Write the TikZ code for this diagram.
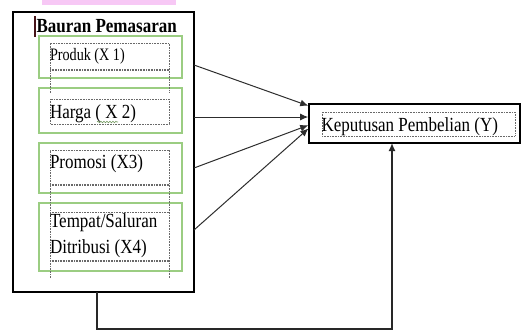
\documentclass[tikz,border=0pt]{standalone}
\usepackage{fontspec}
\setmainfont{Liberation Serif}
\usetikzlibrary{arrows.meta,decorations.pathmorphing,calc}
\definecolor{boxgreen}{RGB}{155,205,130}
\definecolor{pinkbar}{RGB}{247,200,245}
\definecolor{dotgray}{RGB}{105,105,105}
\definecolor{cursorcol}{RGB}{70,20,25}
\begin{document}
\begin{tikzpicture}[x=1pt,y=-1pt,
  frame/.style={draw, rectangle, inner sep=0pt, outer sep=0pt, anchor=north west},
  gbox/.style={frame, draw=boxgreen, line width=1.2pt, minimum width=143pt},
  dotline/.style={draw=dotgray, line width=0.7pt, dash pattern=on 0.8pt off 0.8pt},
  thickdot/.style={draw=dotgray, line width=1.4pt, dash pattern=on 1pt off 0.6pt},
  txt/.style={anchor=base west, inner sep=0pt, outer sep=0pt, font=\fontsize{20}{24}\selectfont, xscale=0.85},
  arr/.style={draw={rgb,255:red,45;green,45;blue,45}, line width=1pt, -{Latex[length=8pt,width=7pt]}, shorten >=0.8pt},
  fb/.style={draw={rgb,255:red,40;green,40;blue,40}, line width=1.5pt, -{Latex[length=8pt,width=7pt]}}
]
\useasboundingbox (0,0) rectangle (521,330);
% pink bar at top
\fill[pinkbar] (42,0) rectangle (176,5);
% outer frame
\node[frame, line width=2pt, minimum width=181pt, minimum height=280pt] (mix) at (13,12) {};
% cursor mark
\draw[cursorcol, line width=2pt] (35,16) -- (35,37);
\node[txt, font=\fontsize{20}{24}\selectfont\bfseries] (title) at (36.5,32.3) {Bauran Pemasaran};
% green boxes
\node[gbox, minimum height=42pt] (g1) at (39,36) {};
\node[gbox, minimum height=45pt] (g2) at (39,88) {};
\node[gbox, minimum height=50pt] (g3) at (39,143) {};
\node[gbox, minimum height=68pt] (g4) at (39,203) {};
% dotted text frames
\draw[dotline] (50,93) -- (50,43) -- (169,43) -- (169,93);
\draw[thickdot] (50,70) -- (169,70);
\draw[dotline] (50,99) rectangle (169,124);
\draw[dotline] (50,278) -- (50,150) -- (169,150) -- (169,278);
\draw[thickdot] (50,185) -- (169,185);
\draw[dotline] (50,212) -- (169,212);
\draw[thickdot] (50,261) -- (169,261);
% texts
\node[txt, font=\fontsize{17.5}{21}\selectfont, xscale=0.81/0.85] (t1) at (50,60) {Produk (X 1)};
\node[txt] (t2) at (50,118.3) {Harga ( X 2)};
\draw[boxgreen!75!black, line width=0.6pt, decorate, decoration={snake, amplitude=0.8pt, segment length=3pt}] (97,122) -- (118,122);
\node[txt] (t3) at (50,168.5) {Promosi (X3)};
\node[txt] (t4a) at (50,227.7) {Tempat/Saluran};
\node[txt] (t4b) at (50,253.3) {Ditribusi (X4)};
% Y box
\node[frame, line width=1.5pt, minimum width=211pt, minimum height=39pt] (y) at (309,104) {};
\draw[dotline] (322,112) rectangle (515,136);
\node[txt] (ty) at (321.5,131.7) {Keputusan Pembelian (Y)};
% arrows
\draw[arr] (mix.east |- 0,65) -- (y.west |- 0,106);
\draw[arr] (mix.east |- 0,117) -- (y.west |- 0,117);
\draw[arr] (mix.east |- 0,168) -- (y.west |- 0,125);
\draw[arr] (mix.east |- 0,230) -- (y.west |- 0,128);
% feedback connector
\draw[fb] (mix.south -| 97,0) -- (97,329) -- (392,329) -- (y.south -| 392,0);
\end{tikzpicture}
\end{document}
